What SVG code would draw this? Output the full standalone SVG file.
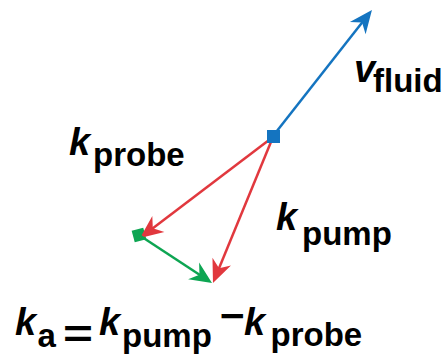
<svg xmlns="http://www.w3.org/2000/svg" width="443" height="354" viewBox="0 0 443 354">
<style>
  .t { font-family: "Liberation Sans", Arial, sans-serif; font-weight: bold; fill: #000; }
  .k { font-style: italic; font-size: 38px; }
  .s { font-size: 33px; }
  .ln { fill: none; stroke-width: 2.5; }
</style>
<defs>
  <marker id="ab" markerUnits="userSpaceOnUse" orient="auto" refX="-14" refY="0" markerWidth="30" markerHeight="30" overflow="visible">
    <path d="M0,0 L-23,-10 L-16,0 L-23,10 Z" fill="#1474c0"/>
  </marker>
  <marker id="ar" markerUnits="userSpaceOnUse" orient="auto" refX="-14" refY="0" markerWidth="30" markerHeight="30" overflow="visible">
    <path d="M0,0 L-23,-10 L-16,0 L-23,10 Z" fill="#e1383e"/>
  </marker>
  <marker id="ag" markerUnits="userSpaceOnUse" orient="auto" refX="-14" refY="0" markerWidth="30" markerHeight="30" overflow="visible">
    <path d="M0,0 L-22,-10 L-15,0 L-22,10 Z" fill="#0da552"/>
  </marker>
</defs>
<g id="probe-point">
  <rect x="133" y="229" width="12" height="12" fill="#0da552" transform="rotate(-15 139 235)"/>
</g>
<g id="connectors">
  <line class="ln" x1="273" y1="136" x2="363.3" y2="21.0" stroke="#1474c0" marker-end="url(#ab)"/>
  <line class="ln" x1="273" y1="137" x2="151.2" y2="229.5" stroke="#e1383e" marker-end="url(#ar)"/>
  <line class="ln" x1="273" y1="137" x2="218.3" y2="270.0" stroke="#e1383e" marker-end="url(#ar)"/>
  <line class="ln" x1="139" y1="235" x2="200.3" y2="275.3" stroke="#0da552" marker-end="url(#ag)"/>
</g>
<g id="origin">
  <rect x="267" y="130" width="13" height="13" fill="#1474c0"/>
</g>
<g id="label-vfluid">
  <text class="t"><tspan class="k" x="354" y="82">v</tspan><tspan class="s" x="373" y="91.5">fluid</tspan></text>
</g>
<g id="label-kprobe">
  <text class="t"><tspan class="k" x="69" y="154.5">k</tspan><tspan class="s" x="93" y="165.5">probe</tspan></text>
</g>
<g id="label-kpump">
  <text class="t"><tspan class="k" x="276" y="230">k</tspan><tspan class="s" x="302" y="245">pump</tspan></text>
</g>
<g id="equation">
  <text class="t"><tspan class="k" x="15" y="334.5">k</tspan><tspan class="s" x="37.5" y="346.5">a</tspan></text>
  <text class="t" x="63" y="347" font-size="38" textLength="30" lengthAdjust="spacingAndGlyphs">=</text>
  <text class="t"><tspan class="k" x="99" y="334.5">k</tspan><tspan class="s" x="122" y="346.5" font-size="34">pump</tspan></text>
  <text class="t" x="219.5" y="329" font-size="38" textLength="25" lengthAdjust="spacingAndGlyphs">−</text>
  <text class="t"><tspan class="k" x="244" y="334.5">k</tspan><tspan class="s" x="270.5" y="345.5">probe</tspan></text>
</g>
</svg>
